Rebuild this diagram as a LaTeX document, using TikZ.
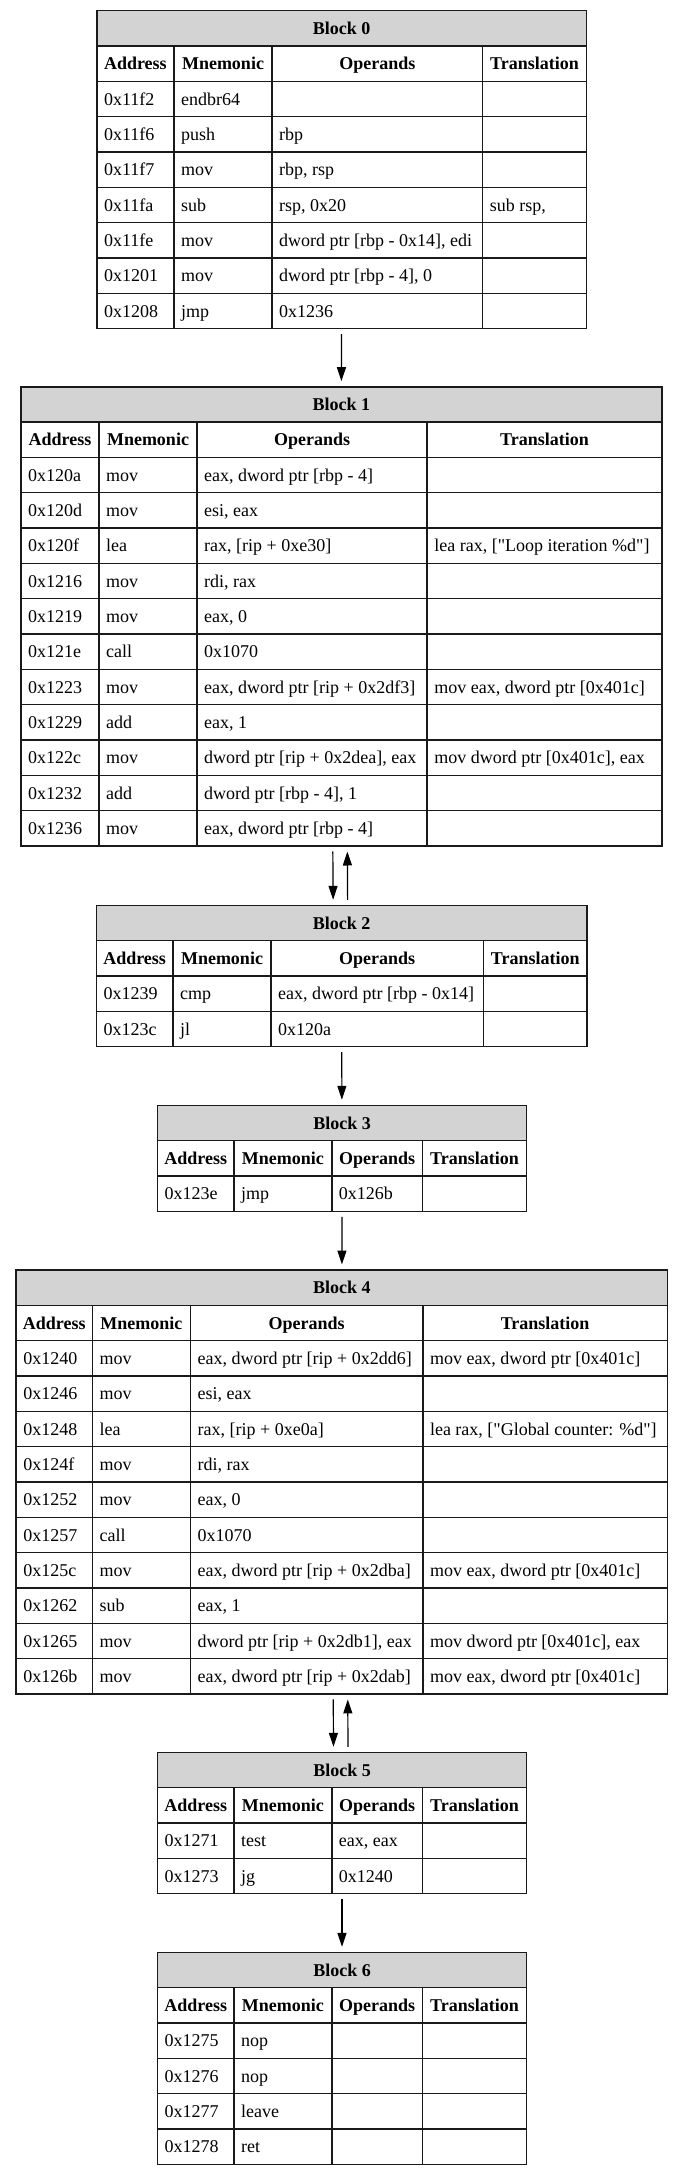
\documentclass[tikz,border=0pt]{standalone}
\usepackage{fontspec}
\setmainfont{Liberation Serif}[Ligatures=TeXOff]
\usetikzlibrary{arrows.meta,calc}
\definecolor{titlegray}{HTML}{D3D3D3}
\definecolor{gridline}{HTML}{1A1A1A}
\newcommand\rh{35.33}
\newcommand\boff{6.2}
\tikzset{
  grid/.style={draw=gridline, line width=1.6pt},
  blockframe/.style={draw=gridline, line width=1.6pt, inner sep=0pt, outer sep=0pt},
  cell/.style={anchor=base west, inner sep=0pt, font=\fontsize{18}{21}\selectfont},
  hdr/.style={anchor=base, inner sep=0pt, font=\fontsize{18}{21}\selectfont\bfseries},
  arr/.style={-{Triangle[length=14pt,width=9pt]}, line width=1.2pt, draw=black, shorten >=5.5pt, shorten <=5.5pt},
}
% name, c0, c1, c2, c3, c4, ytop, nrows, title
\newcommand\blk[9]{%
  \gdef\bname{#1}\gdef\cA{#2}\gdef\cB{#3}\gdef\cC{#4}\gdef\cD{#5}\gdef\cE{#6}\gdef\bytop{#7}%
  \pgfmathsetmacro\ybot{#7+(#8+2)*\rh}%
  \pgfmathsetmacro\yt{#7+\rh}%
  \pgfmathsetmacro\yhb{#7+2*\rh}%
  \pgfmathtruncatemacro\nl{#8+1}%
  \fill[titlegray] (#2,#7) rectangle (#6,\yt);
  \foreach \k in {1,...,\nl} {\draw[grid] (#2,{#7+\k*\rh}) -- (#6,{#7+\k*\rh});}
  \draw[grid] (#3,\yt) -- (#3,\ybot);
  \draw[grid] (#4,\yt) -- (#4,\ybot);
  \draw[grid] (#5,\yt) -- (#5,\ybot);
  \node[blockframe, minimum width={#6-#2}, minimum height={\ybot-#7}] (#1) at ({(#2+#6)/2},{(#7+\ybot)/2}) {};
  \node[hdr] (#1-title) at ({(#2+#6)/2},{#7+0.5*\rh+\boff}) {#9};
  \node[hdr] (#1-ha) at ({(#2+#3)/2},{#7+1.5*\rh+\boff}) {Address};
  \node[hdr] (#1-hm) at ({(#3+#4)/2},{#7+1.5*\rh+\boff}) {Mnemonic};
  \node[hdr] (#1-ho) at ({(#4+#5)/2},{#7+1.5*\rh+\boff}) {Operands};
  \node[hdr] (#1-ht) at ({(#5+#6)/2},{#7+1.5*\rh+\boff}) {Translation};
}
% row index, address, mnemonic, operands, translation
\newcommand\brow[5]{%
  \pgfmathsetmacro\by{\bytop+(#1+1.5)*\rh+\boff}%
  \node[cell] (\bname-#1-a) at (\cA+7,\by) {#2};
  \node[cell] (\bname-#1-m) at (\cB+7,\by) {#3};
  \if\relax\detokenize{#4}\relax\else\node[cell] (\bname-#1-o) at (\cC+7,\by) {#4};\fi
  \if\relax\detokenize{#5}\relax\else\node[cell] (\bname-#1-t) at (\cD+7,\by) {#5};\fi
}
\begin{document}
\begin{tikzpicture}[x=1pt,y=-1pt]
\useasboundingbox (0,0) rectangle (680,2175);
\fill[white] (0,0) rectangle (680,2175);

\blk{b0}{96.8}{174}{272}{482.6}{586.3}{10.7}{7}{Block 0}
\brow{1}{0x11f2}{endbr64}{}{}
\brow{2}{0x11f6}{push}{rbp}{}
\brow{3}{0x11f7}{mov}{rbp, rsp}{}
\brow{4}{0x11fa}{sub}{rsp, 0x20}{sub rsp,}
\brow{5}{0x11fe}{mov}{dword ptr [rbp - 0x14], edi}{}
\brow{6}{0x1201}{mov}{dword ptr [rbp - 4], 0}{}
\brow{7}{0x1208}{jmp}{0x1236}{}

\blk{b1}{20.9}{99}{197}{427.2}{661.7}{386.7}{11}{Block 1}
\brow{1}{0x120a}{mov}{eax, dword ptr [rbp - 4]}{}
\brow{2}{0x120d}{mov}{esi, eax}{}
\brow{3}{0x120f}{lea}{rax, [rip + 0xe30]}{lea rax, ["Loop iteration \%d"]}
\brow{4}{0x1216}{mov}{rdi, rax}{}
\brow{5}{0x1219}{mov}{eax, 0}{}
\brow{6}{0x121e}{call}{0x1070}{}
\brow{7}{0x1223}{mov}{eax, dword ptr [rip + 0x2df3]}{mov eax, dword ptr [0x401c]}
\brow{8}{0x1229}{add}{eax, 1}{}
\brow{9}{0x122c}{mov}{dword ptr [rip + 0x2dea], eax}{mov dword ptr [0x401c], eax}
\brow{10}{0x1232}{add}{dword ptr [rbp - 4], 1}{}
\brow{11}{0x1236}{mov}{eax, dword ptr [rbp - 4]}{}

\blk{b2}{96.3}{173}{271}{483.4}{587}{905.3}{2}{Block 2}
\brow{1}{0x1239}{cmp}{eax, dword ptr [rbp - 0x14]}{}
\brow{2}{0x123c}{jl}{0x120a}{}

\blk{b3}{157.4}{234}{331.7}{422.4}{526.6}{1105.3}{1}{Block 3}
\brow{1}{0x123e}{jmp}{0x126b}{}

\blk{b4}{16.1}{92.4}{190.5}{422.8}{667.4}{1270}{10}{Block 4}
\brow{1}{0x1240}{mov}{eax, dword ptr [rip + 0x2dd6]}{mov eax, dword ptr [0x401c]}
\brow{2}{0x1246}{mov}{esi, eax}{}
\brow{3}{0x1248}{lea}{rax, [rip + 0xe0a]}{lea rax, ["Global counter: \%d"]}
\brow{4}{0x124f}{mov}{rdi, rax}{}
\brow{5}{0x1252}{mov}{eax, 0}{}
\brow{6}{0x1257}{call}{0x1070}{}
\brow{7}{0x125c}{mov}{eax, dword ptr [rip + 0x2dba]}{mov eax, dword ptr [0x401c]}
\brow{8}{0x1262}{sub}{eax, 1}{}
\brow{9}{0x1265}{mov}{dword ptr [rip + 0x2db1], eax}{mov dword ptr [0x401c], eax}
\brow{10}{0x126b}{mov}{eax, dword ptr [rip + 0x2dab]}{mov eax, dword ptr [0x401c]}

\blk{b5}{157.4}{234}{331.7}{422.4}{526.6}{1752.3}{2}{Block 5}
\brow{1}{0x1271}{test}{eax, eax}{}
\brow{2}{0x1273}{jg}{0x1240}{}

\blk{b6}{157.4}{234}{331.7}{422.4}{526.6}{1952.3}{4}{Block 6}
\brow{1}{0x1275}{nop}{}{}
\brow{2}{0x1276}{nop}{}{}
\brow{3}{0x1277}{leave}{}{}
\brow{4}{0x1278}{ret}{}{}

% connectors
\draw[arr] (b0) -- (b1);
\draw[arr] ($(b1.south)+(-8.5,0)$) -- ($(b2.north)+(-8.5,0)$);
\draw[arr] ($(b2.north)+(6,0)$) -- ($(b1.south)+(6,0)$);
\draw[arr] (b2) -- (b3);
\draw[arr] (b3) -- (b4);
\draw[arr] ($(b4.south)+(-8.5,0)$) -- ($(b5.north)+(-8.5,0)$);
\draw[arr] ($(b5.north)+(6,0)$) -- ($(b4.south)+(6,0)$);
\draw[arr] (b5) -- (b6);
\end{tikzpicture}
\end{document}
